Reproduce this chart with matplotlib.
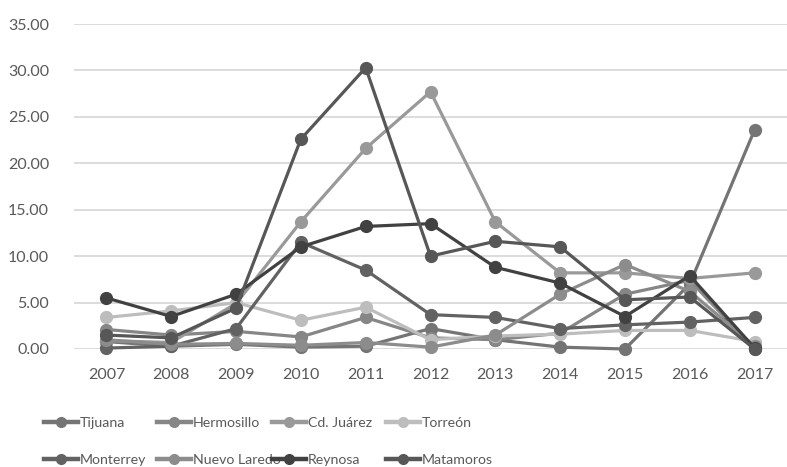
import matplotlib
matplotlib.use('Agg')
import matplotlib.pyplot as plt
import numpy as np

plt.rcParams['font.family'] = ['Lato', 'DejaVu Sans']

years = ['2007', '2008', '2009', '2010', '2011', '2012', '2013', '2014', '2015', '2016', '2017']

tijuana      = [0.8, 0.3, 0.5, 0.2, 0.3, 2.2, 1.0, 0.2, 0.0, 7.0, 23.6]
hermosillo   = [2.1, 1.5, 1.9, 1.3, 3.4, 1.2, 1.0, 1.7, 5.9, 7.4, 0.0]
cd_juarez    = [0.9, 0.7, 4.9, 13.7, 21.6, 27.7, 13.7, 8.2, 8.2, 7.6, 8.2]
torreon      = [3.4, 4.1, 5.0, 3.1, 4.5, 1.0, 1.4, 1.6, 2.0, 2.0, 0.8]
monterrey    = [0.1, 0.3, 2.2, 11.5, 8.5, 3.7, 3.4, 2.2, 2.6, 2.9, 3.4]
nuevo_laredo = [1.0, 0.5, 0.6, 0.4, 0.7, 0.2, 1.5, 5.9, 9.1, 6.2, 0.3]
reynosa      = [5.5, 3.5, 5.9, 11.0, 13.2, 13.5, 8.8, 7.1, 3.5, 7.9, 0.1]
matamoros    = [1.5, 1.2, 4.4, 22.6, 30.3, 10.0, 11.6, 11.0, 5.3, 5.6, 0.0]

names = ['Tijuana', 'Hermosillo', 'Cd. Juárez', 'Torreón',
         'Monterrey', 'Nuevo Laredo', 'Reynosa', 'Matamoros']
series = [tijuana, hermosillo, cd_juarez, torreon,
          monterrey, nuevo_laredo, reynosa, matamoros]
colors = ['#747474', '#868686', '#999999', '#bdbdbd',
          '#626262', '#8c8c8c', '#414141', '#575757']

fig = plt.figure(figsize=(7.87, 4.67), dpi=100)
ax = fig.add_axes([74/787, 1 - 349/467, 1 - 74/787, (349 - 24)/467])

x = np.arange(len(years))
handles = []
for vals, name, c in zip(series, names, colors):
    h, = ax.plot(x, vals, color=c, lw=2.3, marker='o', ms=8.5,
                 label=name, clip_on=False, zorder=3)
    handles.append(h)

ax.set_xlim(-0.5, len(years) - 0.5)
ax.set_ylim(0, 35)
ax.set_yticks(np.arange(0, 36, 5))
ax.set_yticklabels(['%.2f' % v for v in np.arange(0, 36, 5)])
ax.set_xticks(x)
ax.set_xticklabels(years)
ax.grid(axis='y', color='#d9d9d9', lw=1.3, zorder=0)
ax.set_axisbelow(True)
for s in ax.spines.values():
    s.set_visible(False)
ax.tick_params(axis='both', length=0, labelsize=11.5, colors='#595959')
ax.tick_params(axis='y', pad=18)
ax.tick_params(axis='x', pad=14)

# excel-style legend: 4 equal columns, 2 rows
col_x = [44, 157, 272, 386]
for i in range(4):
    leg = fig.legend([handles[i], handles[i + 4]], [names[i], names[i + 4]],
                     loc='upper left', bbox_to_anchor=(col_x[i]/787, 1 - 417/467),
                     frameon=False, handlelength=2.4, handletextpad=0.12,
                     labelspacing=1.75, borderpad=0, borderaxespad=0,
                     prop={'size': 10.2})
    for t in leg.get_texts():
        t.set_color('#595959')
    for lh in leg.get_lines():
        lh.set_linewidth(3.2)
        lh.set_markersize(7)

fig.savefig('out.png', dpi=100)
